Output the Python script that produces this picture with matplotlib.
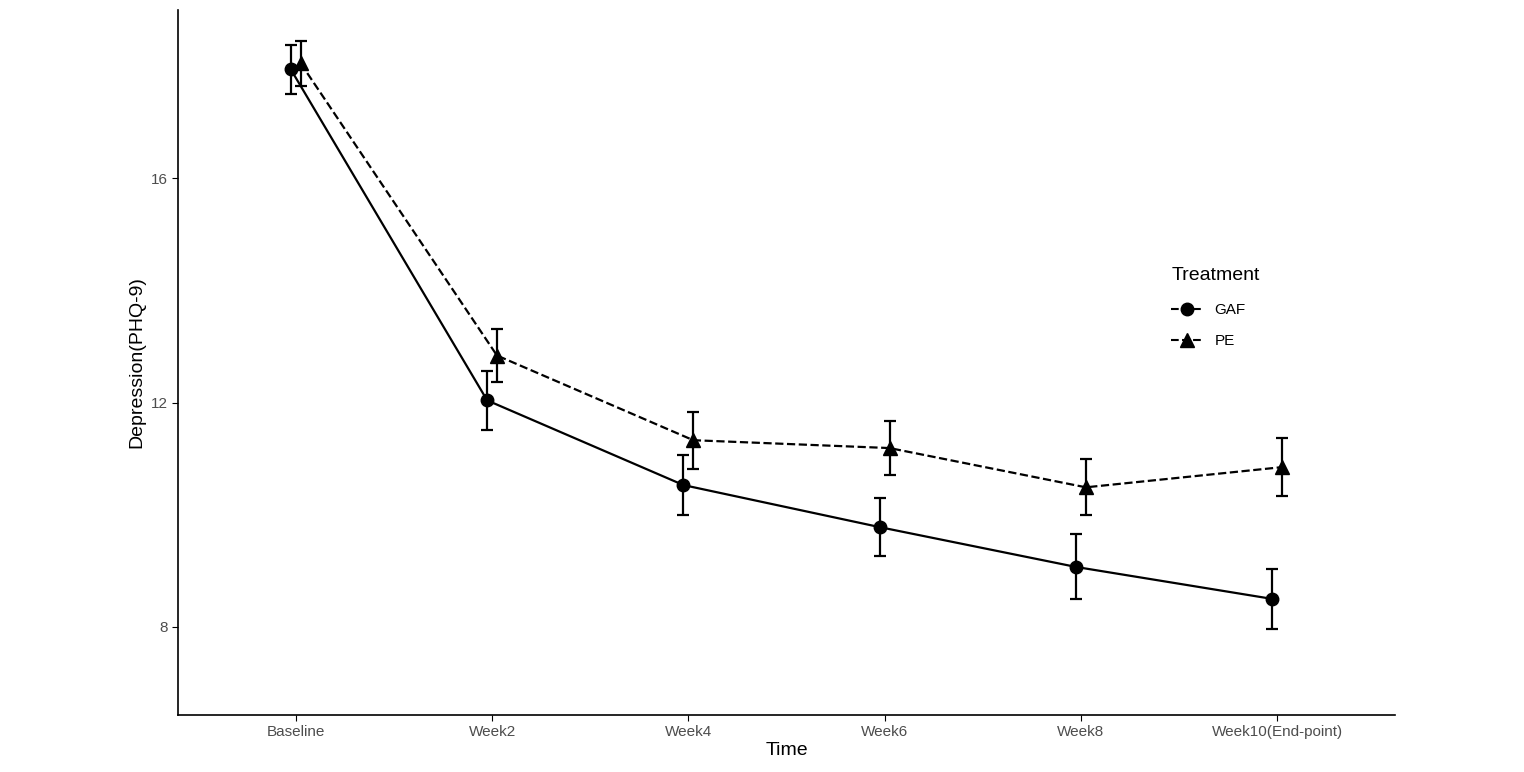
import matplotlib.pyplot as plt
from matplotlib.lines import Line2D
import numpy as np

times = ["Baseline", "Week2", "Week4", "Week6", "Week8", "Week10(End-point)"]
gaf_mean = [17.94, 12.04, 10.53, 9.78, 9.07, 8.50]
gaf_err = [0.43, 0.52, 0.53, 0.52, 0.58, 0.53]
pe_mean = [18.05, 12.84, 11.33, 11.19, 10.49, 10.85]
pe_err = [0.40, 0.48, 0.51, 0.48, 0.50, 0.52]

plt.rcParams['font.family'] = ['Liberation Sans', 'DejaVu Sans']
fig = plt.figure(figsize=(15.24, 7.72), dpi=100)
ax = fig.add_axes([0.1168, 0.0738, 0.7986, 0.9132])

x = np.arange(len(times))
d = 0.025
ax.errorbar(x - d, gaf_mean, yerr=gaf_err, color='black', marker='o', markersize=9,
            linestyle='-', linewidth=1.6, capsize=4, elinewidth=1.6, capthick=1.6)
ax.errorbar(x + d, pe_mean, yerr=pe_err, color='black', marker='^', markersize=10,
            linestyle='--', linewidth=1.6, capsize=4, elinewidth=1.6, capthick=1.6)

ax.set_xlim(-0.6, len(times) - 0.4)
ax.set_ylim(6.43, 19.0)
ax.set_xticks(x)
ax.set_xticklabels(times)
ax.set_yticks([8, 12, 16])
ax.tick_params(labelsize=11, colors='#4d4d4d', length=4)
ax.tick_params(color='black')
for s in ['top', 'right']:
    ax.spines[s].set_visible(False)
for s in ['left', 'bottom']:
    ax.spines[s].set_linewidth(1.2)
ax.set_xlabel("Time", fontsize=14, labelpad=2)
ax.set_ylabel("Depression(PHQ-9)", fontsize=14)

handles = [Line2D([], [], color='black', marker='o', markersize=9, linestyle='--'),
           Line2D([], [], color='black', marker='^', markersize=10, linestyle='--')]
leg = ax.legend(handles, ["GAF", "PE"], title="Treatment", frameon=False,
                loc='upper left', bbox_to_anchor=(0.805, 0.655), fontsize=11,
                title_fontsize=14, handlelength=2, labelspacing=1.1)
leg._legend_box.align = 'left'
leg._legend_box.sep = 14

fig.savefig("out.png", dpi=100)
